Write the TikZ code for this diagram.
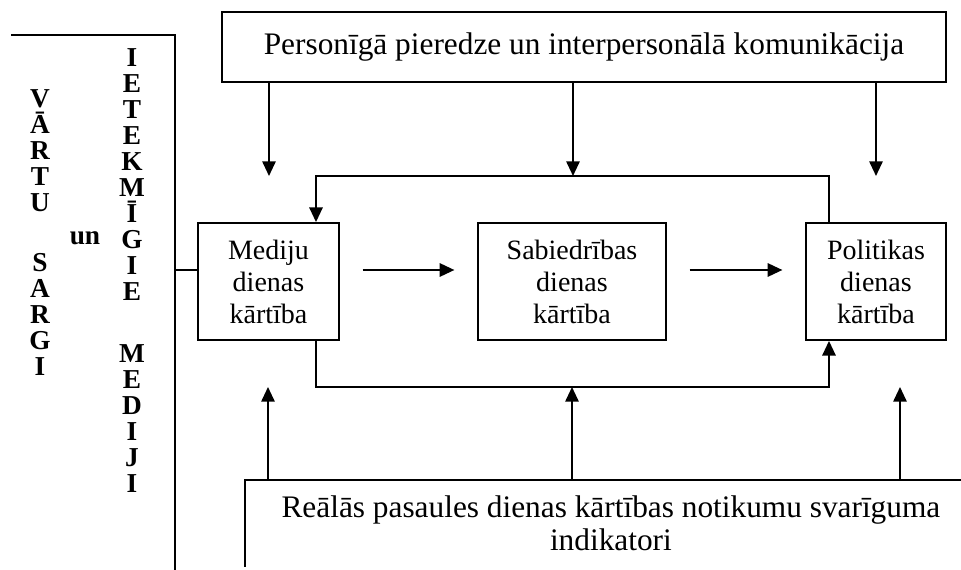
\documentclass[tikz,border=0pt]{standalone}
\usepackage{fontspec}
\setmainfont{Liberation Serif}
\usetikzlibrary{arrows.meta}

\begin{document}
\begin{tikzpicture}[x=.75pt,y=-.75pt,line width=1.4pt,
	>={Triangle[length=11pt,width=10pt]},
	kaste/.style={draw,align=center,inner sep=0pt,minimum height=87.75pt,font=\fontsize{21pt}{24pt}\selectfont},
	burts/.style={align=center,inner sep=0pt,font=\bfseries\fontsize{20.5pt}{19.5pt}\selectfont}]
	\useasboundingbox (0,0) rectangle (961,570);
	\clip (0,0) rectangle (961,570);
	\def\rinda{270}
	\def\augsa{176}
	\def\apaksa{387}
	\def\kreisa{316}
	\def\laba{829}

	% vartu sargi
	\draw (11,35) -- (175,35) -- (175,580);
	\node[burts,anchor=north] (vs) at (40,89) {V\\Ā\\R\\T\\U\\[25.5pt]S\\A\\R\\G\\I};
	\node[burts] (un) at (85,238) {un};
	\node[burts,anchor=north] (im) at (132,48) {I\\E\\T\\E\\K\\M\\Ī\\G\\I\\E\\[27pt]M\\E\\D\\I\\J\\I};

	% dienas kartibas
	\node[kaste,minimum width=105.75pt] (med) at (268.5,281.5) {Mediju\\dienas\\kārtība};
	\node[kaste,minimum width=141pt] (sab) at (572,281.5) {Sabiedrības\\dienas\\kārtība};
	\node[kaste,minimum width=105pt] (pol) at (876,281.5) {Politikas\\dienas\\kārtība};

	% pieredze
	\node[draw,inner sep=0pt,minimum width=543pt,minimum height=52.5pt,font=\fontsize{23.5pt}{26pt}\selectfont] (pers) at (584,47) {Personīgā pieredze un interpersonālā komunikācija};

	% indikatori
	\node[anchor=north west,inner xsep=0pt,inner ysep=11pt,minimum width=547.5pt,align=center,font=\fontsize{23.5pt}{25pt}\selectfont] (real) at (245,480) {Reālās pasaules dienas kārtības notikumu svarīguma\\indikatori};
	\draw (real.north east) -- (real.north west) -- (real.south west);

	% bultas
	\coordinate (row) at (0,\rinda);
	\coordinate (gk) at (175,\rinda);
	\draw (gk) -- (med.west |- row);
	\draw[->,shorten <=17pt,shorten >=17pt] (med.east |- row) -- (sab.west |- row);
	\draw[->,shorten <=17pt,shorten >=17pt] (sab.east |- row) -- (pol.west |- row);

	% cilpa
	\coordinate (ak) at (\kreisa,\augsa);
	\coordinate (al) at (\laba,\augsa);
	\coordinate (pk) at (\kreisa,\apaksa);
	\coordinate (pl) at (\laba,\apaksa);
	\draw[->] (al |- pol.north) -- (al) -- (ak) -- (ak |- med.north);
	\draw[->] (pk |- med.south) -- (pk) -- (pl) -- (pl |- pol.south);

	% ietekme
	\foreach \x [count=\i] in {269,573,876} {
		\coordinate (t\i) at (\x,\augsa);
		\draw[->] (t\i |- pers.south) -- (t\i);
	}
	\foreach \x [count=\i] in {268,572,900} {
		\coordinate (b\i) at (\x,\apaksa);
		\draw[->] (b\i |- real.north) -- (b\i);
	}

\end{tikzpicture}
\end{document}
